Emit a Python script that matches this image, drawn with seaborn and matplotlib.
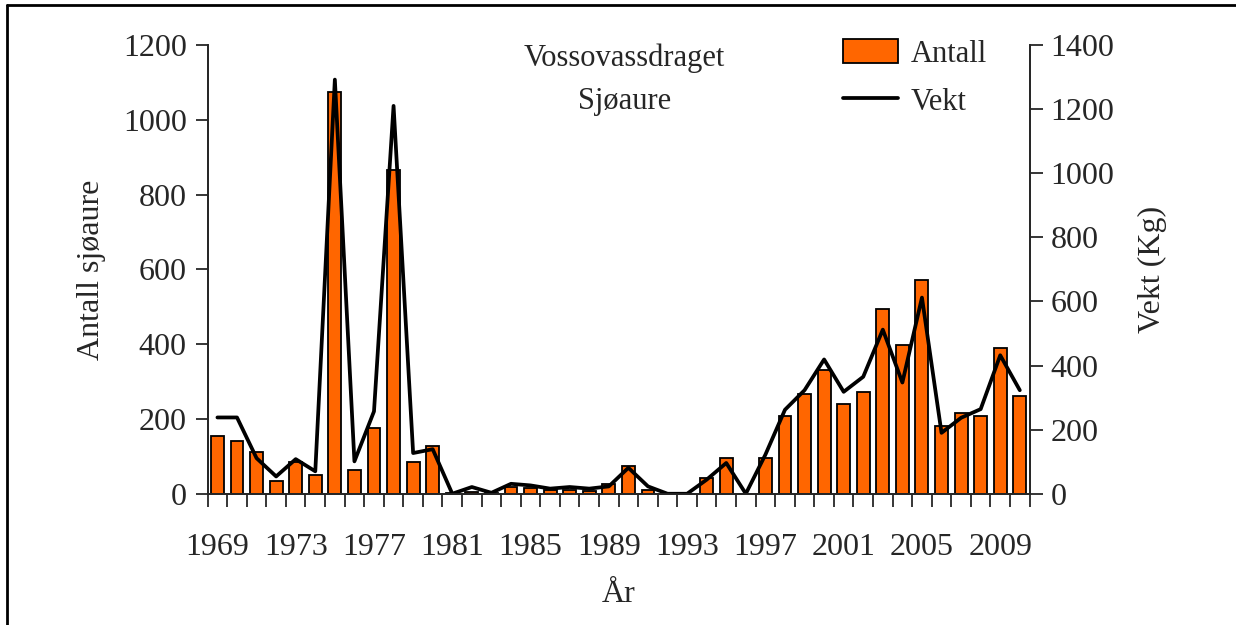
import matplotlib
matplotlib.use("Agg")
import matplotlib.pyplot as plt
import seaborn as sns
import pandas as pd
import numpy as np
from matplotlib.patches import Patch
from matplotlib.lines import Line2D

years = list(range(1969, 2011))
antall = [155, 141, 112, 33, 84, 49, 1075, 64, 177, 866, 86, 129,
          1, 5, 1, 18, 16, 9, 9, 7, 25, 73, 11, 0, 0, 41, 95, 0,
          95, 208, 266, 330, 239, 271, 495, 399, 572, 181, 217, 208, 389, 261]
vekt = [238, 238, 111, 54, 108, 70, 1292, 101, 257, 1210, 127, 139,
        0, 21, 3, 31, 26, 16, 21, 16, 23, 81, 23, 0, 0, 44, 96, 0,
        122, 262, 323, 419, 318, 365, 512, 347, 612, 190, 237, 264, 432, 323]

sns.set_style("ticks")
plt.rcParams["font.family"] = ["Liberation Serif", "DejaVu Serif"]
plt.rcParams["font.size"] = 23

df = pd.DataFrame({"aar": [str(y) for y in years], "antall": antall,
                   "pos": np.arange(len(years)), "vekt": vekt})

fig = plt.figure(figsize=(12.36, 6.25), dpi=100)
ax = fig.add_axes([0.168, 0.21, 0.665, 0.718])

sns.barplot(data=df, x="aar", y="antall", color="#FF6600", edgecolor="black",
            linewidth=1.3, width=0.66, saturation=1, ax=ax)
ax.set_ylim(0, 1200)
ax.set_yticks(range(0, 1201, 200))
ax.set_xlim(-0.5, len(years) - 0.5)
ax.set_xticks(np.arange(0, len(years), 4))
ax.set_xticklabels([str(y) for y in years[::4]])
ax.set_xticks(np.arange(-0.5, len(years), 1), minor=True)
ax.tick_params(axis="x", which="major", length=0, pad=28)
ax.tick_params(axis="x", which="minor", length=9, width=1.3, direction="out")
ax.tick_params(axis="y", length=9, width=1.3, direction="out", pad=6)
ax.set_xlabel("År", labelpad=13)
ax.set_ylabel("Antall sjøaure", labelpad=12)
for s in ax.spines.values():
    s.set_linewidth(1.3)
ax.spines["top"].set_visible(False)

ax2 = ax.twinx()
sns.lineplot(data=df, x="pos", y="vekt", color="black", linewidth=2.7, ax=ax2)
ax2.set_ylim(0, 1400)
ax2.set_yticks(range(0, 1401, 200))
ax2.set_xlim(-0.5, len(years) - 0.5)
ax2.tick_params(axis="y", length=9, width=1.3, direction="out", pad=6)
ax2.set_ylabel("Vekt (Kg)", labelpad=17)
for s in ax2.spines.values():
    s.set_linewidth(1.3)
ax2.spines["top"].set_visible(False)

fig.text(0.505, 0.907, "Vossovassdraget", ha="center", va="center", fontsize=22)
fig.text(0.505, 0.838, "Sjøaure", ha="center", va="center", fontsize=22)

handles = [Patch(facecolor="#FF6600", edgecolor="black", linewidth=1.3),
           Line2D([0], [0], color="black", linewidth=2.7)]
ax2.legend(handles, ["Antall", "Vekt"], loc="upper left",
           bbox_to_anchor=(0.74, 1.075), frameon=False, fontsize=22,
           handlelength=1.8, handleheight=0.85, labelspacing=0.6, handletextpad=0.4)

# figure frame (left and top edges visible)
fig.add_artist(Line2D([0.006, 0.006], [0, 0.992], transform=fig.transFigure,
                      color="black", linewidth=2))
fig.add_artist(Line2D([0.006, 1], [0.992, 0.992], transform=fig.transFigure,
                      color="black", linewidth=2))

fig.savefig("out.png", dpi=100)
